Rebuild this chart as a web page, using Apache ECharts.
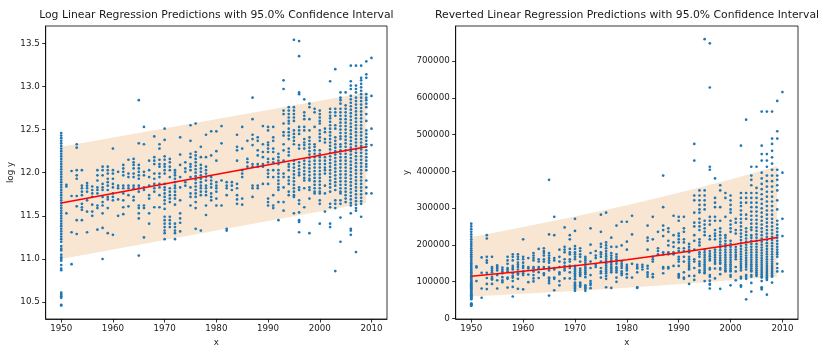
<!DOCTYPE html>
<html>
<head>
<meta charset="utf-8">
<script src="https://cdn.jsdelivr.net/npm/echarts@6/dist/echarts.min.js"></script>
<style>
  html, body { margin: 0; padding: 0; background: #fff; }
  #chart { width: 840px; height: 356px; }
</style>
</head>
<body>
<div id="chart"></div>
<script>
// ---- Data (log of y, one list per year) ----
const logY1950s = [
  [12.46,12.43,12.40,12.37,12.34,12.31,12.28,12.25,12.22,12.19,12.16,
   12.13,12.10,12.07,12.04,12.01,11.98,11.95,11.92,11.89,11.86,11.83,11.80,11.77,11.74,11.71,11.68,11.65,11.62,11.59,11.56,11.53,11.50,11.47,11.44,11.41,11.38,11.35,11.32,11.29,11.26,11.23,11.20,
   11.15,11.12,11.10,11.05,11.02,11.00,10.98,10.93,10.89,10.87,10.61,10.59,10.57,10.55,10.47,10.46],
  [11.86,11.84,11.53],
  [12.02,11.73,11.31,10.94],
  [12.33,12.29,12.03,11.97,11.93,11.73,11.61,11.45,11.29],
  [12.03,11.85,11.82,11.78,11.74,11.64,11.60,11.57,11.45],
  [11.88,11.85,11.82,11.78,11.68,11.55,11.31],
  [11.84,11.80,11.76,11.72,11.63,11.55,11.50],
  [12.03,11.97,11.91,11.83,11.80,11.76,11.62,11.59,11.34],
  [12.07,12.03,11.97,11.87,11.83,11.80,11.72,11.66,11.62,11.53,11.36,11.00],
  [12.07,12.03,11.99,11.93,11.89,11.85,11.80,11.72,11.69,11.59,11.30]
];
const logY1960s = [
  [12.28,12.03,11.99,11.93,11.87,11.83,11.76,11.72,11.68,11.28],
  [12.01,11.85,11.82,11.69,11.50],
  [12.09,12.05,12.01,11.97,11.85,11.82,11.76,11.68,11.60,11.52],
  [12.15,11.99,11.95,11.85,11.82,11.74,11.61],
  [12.16,12.12,12.09,12.05,11.99,11.95,11.85,11.82,11.72,11.68],
  [12.84,12.34,12.09,12.05,12.01,11.97,11.93,11.85,11.82,11.78,11.62,11.59,11.53,11.47,11.04],
  [12.53,12.33,12.01,11.97,11.83,11.80,11.62,11.59,11.25],
  [12.14,12.03,11.95,11.85,11.74,11.70,11.53,11.41],
  [12.42,12.18,12.14,12.10,11.99,11.93,11.87,11.82,11.78,11.60],
  [12.33,12.28,12.15,12.10,12.07,11.99,11.95,11.87,11.83,11.74,11.60]
];
const logY1970s = [
  [12.51,12.38,12.19,12.15,12.10,12.07,12.03,11.99,11.87,11.83,11.80,11.76,11.72,11.68,11.64,11.58,11.49,11.45,11.41,11.37,11.33,11.30,11.23],
  [12.16,12.12,12.07,12.03,11.95,11.82,11.78,11.74,11.70,11.66,11.49,11.45,11.41,11.37],
  [12.03,12.00,11.97,11.93,11.89,11.85,11.82,11.78,11.74,11.70,11.63,11.41,11.37,11.33,11.30,11.23],
  [12.41,12.21,12.09,11.95,11.83,11.68,11.53,11.47,11.42,11.32],
  [12.12,12.05,12.01,11.89,11.85],
  [12.55,12.37,12.22,12.18,12.10,12.07,12.03,11.95,11.83,11.76,11.72,11.62],
  [12.57,12.24,12.20,12.16,12.12,12.08,12.04,12.00,11.96,11.92,11.88,11.84,11.80,11.76,11.72,11.66,11.59,11.35],
  [12.30,12.18,12.09,12.05,12.01,11.97,11.93,11.89,11.85,11.82,11.78,11.74,11.33],
  [12.44,12.18,12.07,12.03,11.99,11.95,11.91,11.85,11.82,11.78,11.74,11.62,11.51],
  [12.48,12.20,11.95,11.91,11.87,11.83,11.76,11.72,11.68]
];
const logY1980s = [
  [12.48,12.25,12.14,11.89,11.85,11.82,11.78,11.70,11.62],
  [12.54,12.34,11.91,11.62],
  [11.89,11.85,11.82,11.74,11.35,11.33],
  [11.89,11.85,11.80],
  [12.44,12.30,12.26,12.14,11.87,11.82,11.74,11.69,11.64],
  [12.53,12.28,12.03,11.99,11.95,11.70,11.63],
  [12.37,12.16,12.12,12.07],
  [12.87,12.62,12.44,12.39,12.32,12.10,12.07,11.85,11.82,11.72],
  [12.41,12.37,12.26,12.20,12.10,12.07,11.85,11.82],
  [12.54,12.33,12.24,12.18,12.10,12.07,11.87]
];
const logY1990s = [
  [12.53,12.49,12.35,12.32,12.28,12.24,12.16,12.12,12.03,11.99,11.95,11.87,11.70,11.66,11.62],
  [12.53,12.41,12.37,12.28,12.24,12.16,12.12,12.03,11.95,11.74,11.62,11.59],
  [12.22,12.18,12.14,12.10,12.03,11.99,11.95,11.91,11.87,11.83,11.80,11.66,11.45],
  [13.07,12.97,12.72,12.68,12.57,12.47,12.43,12.33,12.26,12.14,11.99,11.95,11.83,11.66,11.56],
  [12.76,12.72,12.68,12.64,12.60,12.57,12.51,12.47,12.43,12.39,12.28,12.24,12.20,12.10,12.07,12.03,11.95,11.91,11.87,11.78,11.74],
  [13.54,12.76,12.72,12.68,12.64,12.60,12.49,12.45,12.41,12.37,12.33,12.14,12.10,12.06,12.02,11.98,11.94,11.90,11.86,11.82,11.78,11.74,11.72,11.53],
  [13.525,13.35,12.93,12.91,12.53,12.49,12.45,12.32,12.28,12.12,12.08,12.04,12.00,11.97,11.83,11.80,11.68,11.64,11.54,11.45,11.43,11.31],
  [12.85,12.70,12.66,12.62,12.53,12.49,12.39,12.35,12.32,12.28,12.14,12.10,12.06,12.02,11.98,11.94,11.91,11.82,11.60],
  [12.80,12.76,12.62,12.49,12.41,12.37,12.33,12.29,12.25,12.21,12.17,12.13,12.09,12.05,12.01,11.97,11.93,11.91,11.83,11.80,11.70,11.30],
  [12.74,12.70,12.53,12.33,12.30,12.26,12.22,12.18,12.14,12.10,12.06,12.02,11.98,11.94,11.90,11.86,11.82,11.78,11.76]
];
const logY2000s = [
  [12.72,12.68,12.64,12.60,12.57,12.49,12.45,12.41,12.37,12.26,12.22,12.18,12.14,12.10,12.06,12.02,11.98,11.94,11.90,11.86,11.82,11.78,11.76,11.68,11.64,11.41],
  [12.51,12.47,12.39,12.35,12.18,12.14,12.10,12.06,12.03,11.99,11.85,11.76,11.55],
  [13.06,12.74,12.70,12.66,12.63,12.59,12.55,12.51,12.47,12.43,12.39,12.35,12.31,12.27,12.23,12.19,12.15,12.11,12.07,12.03,11.99,11.95,11.91,11.87,11.83,11.78,11.64,11.60,11.41,11.37],
  [13.20,12.74,12.70,12.66,12.55,12.51,12.41,12.37,12.33,12.29,12.25,12.21,12.17,12.13,12.09,12.05,12.01,11.97,11.93,11.89,11.85,11.80,11.68,11.64,11.59,10.86],
  [12.93,12.87,12.84,12.80,12.74,12.70,12.66,12.62,12.58,12.54,12.50,12.46,12.42,12.39,12.33,12.30,12.26,12.22,12.18,12.14,12.10,12.06,12.02,11.98,11.94,11.90,11.86,11.82,11.78,11.76,11.68,11.64,11.48,11.20],
  [12.93,12.78,12.74,12.70,12.66,12.62,12.58,12.54,12.50,12.46,12.42,12.38,12.34,12.30,12.26,12.22,12.18,12.14,12.10,12.06,12.02,11.98,11.94,11.90,11.86,11.82,11.78,11.74,11.70,11.66],
  [13.24,13.06,13.01,12.97,12.89,12.85,12.81,12.77,12.73,12.69,12.65,12.61,12.57,12.53,12.49,12.45,12.41,12.37,12.33,12.29,12.25,12.21,12.17,12.13,12.09,12.05,12.01,11.97,11.93,11.89,11.85,11.81,11.77,11.73,11.69,11.65,11.62,11.53,11.35,11.33,11.28],
  [13.24,13.01,12.97,12.93,12.87,12.83,12.79,12.75,12.71,12.67,12.63,12.59,12.55,12.51,12.47,12.43,12.39,12.35,12.31,12.27,12.23,12.19,12.15,12.11,12.07,12.03,11.99,11.95,11.91,11.87,11.83,11.79,11.75,11.71,11.67,11.63,11.59,11.56,11.08],
  [13.24,13.10,13.07,13.03,12.99,12.95,12.91,12.87,12.83,12.79,12.75,12.71,12.67,12.63,12.59,12.55,12.51,12.47,12.43,12.39,12.35,12.31,12.27,12.23,12.19,12.15,12.11,12.07,12.03,11.99,11.95,11.91,11.87,11.83,11.79,11.75,11.71,11.67,11.64,11.49],
  [13.29,13.14,13.10,12.91,12.87,12.84,12.80,12.76,12.68,12.60,12.49,12.45,12.41,12.37,12.33,12.30,12.26,12.22,12.18,12.14,12.10,12.07,12.03,11.91,11.83,11.76]
];
const logY2010s = [
  [13.33,12.89,12.51,12.32,11.76]
];
const decadeStarts = [1950, 1960, 1970, 1980, 1990, 2000, 2010];
const decadeLists = [logY1950s, logY1960s, logY1970s, logY1980s, logY1990s, logY2000s, logY2010s];

// Regression line and 95% interval, log panel (read at the ends)
const logFitYears = [1950, 2009];
const logFit      = [11.65, 12.30];
const logLower    = [11.00, 11.65];
const logUpper    = [12.30, 12.93];

// Regression line and 95% interval, reverted panel
const revFitYears = [1950, 1960, 1970, 1980, 1990, 2000, 2009];
const revFit      = [115000, 128500, 143500, 160000, 178500, 199500, 220000];
const revLower    = [60000, 67000, 74800, 83500, 93000, 103800, 113500];
const revUpper    = [221000, 249000, 277000, 308000, 342000, 378000, 414000];

// Tick labels
const xTicks = [1950, 1960, 1970, 1980, 1990, 2000, 2010];
const logTicks = [10.5, 11.0, 11.5, 12.0, 12.5, 13.0, 13.5];
const revTicks = [0, 100000, 200000, 300000, 400000, 500000, 600000, 700000];

const titles = [
  'Log Linear Regression Predictions with 95.0% Confidence Interval',
  'Reverted Linear Regression Predictions with 95.0% Confidence Interval'
];

// ---- Build series data ----
const logPoints = [];
decadeLists.forEach((dec, d) => {
  dec.forEach((vals, i) => {
    const yr = decadeStarts[d] + i;
    vals.forEach(v => logPoints.push([yr, v]));
  });
});
// The right panel shows the same observations reverted from the log scale.
const revPoints = logPoints.map(p => [p[0], Math.exp(p[1])]);

const FONT = 'DejaVu Sans';
const TXT = '#1a1a1a';
const BLUE = '#1f77b4';
const BAND = '#f8e6d3';

function xAxisCfg(gi) {
  return {
    type: 'value', gridIndex: gi, min: 1947, max: 2013,
    name: 'x', nameLocation: 'middle', nameGap: 17,
    nameTextStyle: { fontFamily: FONT, fontSize: 8.7, color: TXT },
    axisLine: { show: true, onZero: false, lineStyle: { color: '#000', width: 0.8 } },
    axisTick: { show: true, length: 3.5, customValues: xTicks, lineStyle: { color: '#000', width: 0.8 } },
    axisLabel: { customValues: xTicks, margin: 5, fontFamily: FONT, fontSize: 8.7, color: TXT,
                 formatter: v => String(Math.round(v)) },
    splitLine: { show: false }
  };
}
function yAxisCfg(gi, min, max, ticks, fmt, name, gap) {
  return {
    type: 'value', gridIndex: gi, min: min, max: max,
    name: name, nameLocation: 'middle', nameGap: gap,
    nameTextStyle: { fontFamily: FONT, fontSize: 8.7, color: TXT },
    axisLine: { show: true, onZero: false, lineStyle: { color: '#000', width: 0.8 } },
    axisTick: { show: true, length: 3.5, customValues: ticks, lineStyle: { color: '#000', width: 0.8 } },
    axisLabel: { customValues: ticks, margin: 6, fontFamily: FONT, fontSize: 8.7, color: TXT, formatter: fmt },
    splitLine: { show: false }
  };
}
function bandSeries(gi, xs, lo, hi) {
  const rows = xs.map((x, i) => [x, lo[i], hi[i]]);
  return {
    type: 'custom', xAxisIndex: gi, yAxisIndex: gi, data: rows, z: 1, silent: true,
    encode: { x: 0, y: [1, 2] },
    renderItem: function (params, api) {
      if (params.dataIndex !== 0) return null;
      const top = rows.map(r => api.coord([r[0], r[2]]));
      const bot = rows.map(r => api.coord([r[0], r[1]])).reverse();
      return { type: 'polygon', shape: { points: top.concat(bot) }, style: { fill: BAND } };
    }
  };
}
function scatterSeries(gi, pts) {
  return {
    type: 'scatter', xAxisIndex: gi, yAxisIndex: gi, data: pts, z: 2, silent: true,
    symbol: 'circle', symbolSize: 2.7,
    itemStyle: { color: BLUE, opacity: 1 }
  };
}
function lineSeries(gi, xs, ys) {
  return {
    type: 'line', xAxisIndex: gi, yAxisIndex: gi, z: 3, silent: true,
    data: xs.map((x, i) => [x, ys[i]]), showSymbol: false, symbol: 'none',
    lineStyle: { color: '#ff0000', width: 1.5 }
  };
}

const chart = echarts.init(document.getElementById('chart'), null, { renderer: 'canvas' });
chart.setOption({
  animation: false,
  backgroundColor: '#fff',
  title: [
    { text: titles[0], left: 216.4, top: 10, textAlign: 'center', padding: 0,
      textStyle: { fontFamily: FONT, fontSize: 10.8, fontWeight: 'normal', color: TXT } },
    { text: titles[1], left: 627, top: 10, textAlign: 'center', padding: 0,
      textStyle: { fontFamily: FONT, fontSize: 10.8, fontWeight: 'normal', color: TXT } }
  ],
  grid: [
    { left: 45.7, top: 26, width: 341.3, height: 293, show: true, borderColor: '#000', borderWidth: 0.8, backgroundColor: 'transparent', containLabel: false },
    { left: 455.7, top: 26, width: 342.3, height: 293, show: true, borderColor: '#000', borderWidth: 0.8, backgroundColor: 'transparent', containLabel: false }
  ],
  xAxis: [xAxisCfg(0), xAxisCfg(1)],
  yAxis: [
    yAxisCfg(0, 10.305, 13.70, logTicks, v => v.toFixed(1), 'log y', 30),
    yAxisCfg(1, -1300, 795000, revTicks, v => String(Math.round(v)), 'y', 44)
  ],
  series: [
    bandSeries(0, logFitYears, logLower, logUpper),
    scatterSeries(0, logPoints),
    lineSeries(0, logFitYears, logFit),
    bandSeries(1, revFitYears, revLower, revUpper),
    scatterSeries(1, revPoints),
    lineSeries(1, revFitYears, revFit)
  ]
});
</script>
</body>
</html>
